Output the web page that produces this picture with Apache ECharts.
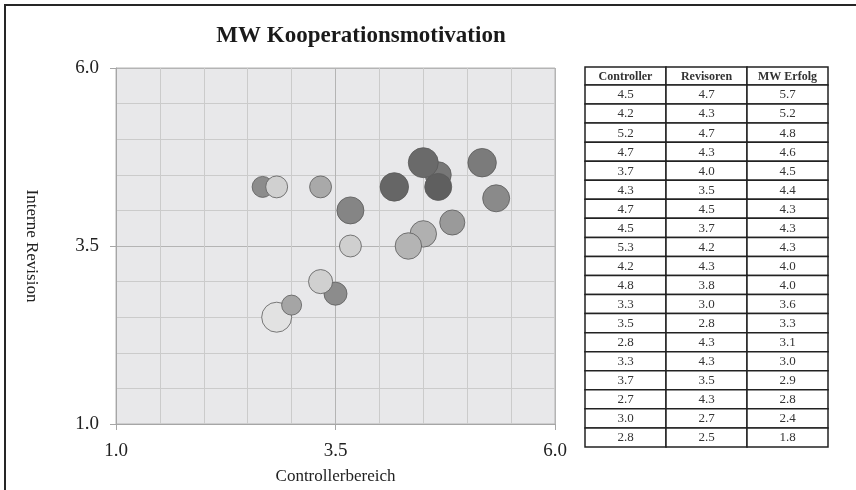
<!DOCTYPE html>
<html>
<head>
<meta charset="utf-8">
<script src="https://cdn.jsdelivr.net/npm/echarts@6/dist/echarts.min.js"></script>
<style>
  html, body { margin: 0; padding: 0; background: #fff; }
  #main { width: 856px; height: 490px; }
</style>
</head>
<body>
<div id="main"></div>
<script>
// Werte je Teilnehmer (Reihenfolge wie in der Tabelle)
const controller = [4.5, 4.17, 5.17, 4.67, 3.67, 4.33, 4.67, 4.5, 5.33, 4.17, 4.83, 3.33, 3.5, 2.83, 3.33, 3.67, 2.67, 3.0, 2.83];
const revisoren = [4.67, 4.33, 4.67, 4.33, 4.0, 3.5, 4.5, 3.67, 4.17, 4.33, 3.83, 3.0, 2.83, 4.33, 4.33, 3.5, 4.33, 2.67, 2.5];
const mwErfolg = [5.7, 5.2, 4.8, 4.6, 4.5, 4.4, 4.3, 4.3, 4.3, 4.0, 4.0, 3.6, 3.3, 3.1, 3.0, 2.9, 2.8, 2.4, 1.8];
// Blasengröße (dritte Dimension)
const bubble = [9.0, 8.1, 8.1, 7.3, 7.3, 7.0, 6.8, 7.0, 7.3, 7.3, 6.3, 5.8, 5.3, 4.8, 4.8, 4.8, 4.4, 4.0, 9.0];
const tableHeader = ["Controller", "Revisoren", "MW Erfolg"];
const xTicks = [1.0, 3.5, 6.0];

// Füllfarben der Blasen
const fills = ["#6a6a6a", "#666666", "#7b7b7b", "#5f5f5f", "#858585", "#b4b4b4", "#777777", "#b0b0b0", "#8a8a8a", "#6d6d6d",
  "#9a9a9a", "#d0d0d0", "#8c8c8c", "#d0d0d0", "#a9a9a9", "#cfcfcf", "#8c8c8c", "#a5a5a5", "#e2e2e2"];

const serif = "'Liberation Serif', 'Times New Roman', serif";

// Punkte, niedrigster Erfolg zuerst gezeichnet
const points = controller.map((c, i) => ({
  value: [c, revisoren[i], bubble[i]],
  itemStyle: { color: fills[i] }
})).reverse();

// Tabelle rechts
const tbl = { left: 585, top: 67, colW: 81, headH: 18, rowH: 19.05 };
const graphics = [];
graphics.push({
  type: "rect",
  shape: { x: 5, y: 5, width: 900, height: 600 },
  style: { fill: "none", stroke: "#262626", lineWidth: 2 },
  silent: true
});
const rows = [tableHeader].concat(controller.map((c, i) => [
  c.toFixed(1), revisoren[i].toFixed(1), mwErfolg[i].toFixed(1)
]));
rows.forEach((row, r) => {
  const y = r === 0 ? tbl.top : tbl.top + tbl.headH + (r - 1) * tbl.rowH;
  const h = r === 0 ? tbl.headH : tbl.rowH;
  row.forEach((txt, c) => {
    const x = tbl.left + c * tbl.colW;
    graphics.push({
      type: "rect",
      shape: { x: x, y: y, width: tbl.colW, height: h },
      style: { fill: "#fff", stroke: "#222", lineWidth: 1.5 },
      silent: true
    });
    graphics.push({
      type: "text",
      x: x + tbl.colW / 2,
      y: y + h / 2 + 0.5,
      style: {
        text: txt,
        fill: "#333",
        font: (r === 0 ? "bold 12px " : "13px ") + serif,
        align: "center",
        verticalAlign: "middle"
      },
      silent: true
    });
  });
});

const axisCommon = {
  type: "value",
  min: 1,
  max: 6,
  interval: 2.5,
  axisLine: { show: true, lineStyle: { color: "#a6a6a6", width: 1 } },
  axisTick: { show: true, inside: false, length: 6, lineStyle: { color: "#a6a6a6" } },
  splitLine: { show: true, lineStyle: { color: "#b4b4b4", width: 1 } },
  minorTick: { show: false, splitNumber: 5 },
  minorSplitLine: { show: true, lineStyle: { color: "#cbcbcb", width: 1 } },
  nameTextStyle: { fontFamily: serif, fontSize: 17, color: "#222" }
};

const option = {
  backgroundColor: "#fff",
  animation: false,
  title: {
    text: "MW Kooperationsmotivation",
    left: 356,
    top: 20,
    textAlign: "center",
    textStyle: { fontFamily: serif, fontSize: 23, fontWeight: "bold", color: "#1a1a1a" }
  },
  grid: {
    left: 116,
    right: 301,
    top: 68,
    bottom: 66,
    show: true,
    backgroundColor: "#e8e8ea",
    borderColor: "#b4b4b4",
    borderWidth: 1
  },
  xAxis: Object.assign({}, axisCommon, {
    name: "Controllerbereich",
    nameLocation: "middle",
    nameGap: 44,
    axisLabel: {
      margin: 18,
      fontFamily: serif,
      fontSize: 19,
      color: "#222",
      formatter: (v) => (xTicks.includes(v) ? v.toFixed(1) : "")
    }
  }),
  yAxis: Object.assign({}, axisCommon, {
    name: "Interne Revision",
    nameLocation: "middle",
    nameRotate: -90,
    nameGap: 76,
    axisLabel: {
      margin: 17,
      fontFamily: serif,
      fontSize: 19,
      color: "#222",
      formatter: (v) => v.toFixed(1)
    }
  }),
  series: [
    {
      type: "scatter",
      data: points,
      symbolSize: (val) => 10 * Math.sqrt(val[2]),
      itemStyle: { borderColor: "#5a5a5a", borderWidth: 0.8, opacity: 1 }
    }
  ],
  graphic: graphics
};

var myChart = echarts.init(document.getElementById("main"));
myChart.setOption(option);
</script>
</body>
</html>
